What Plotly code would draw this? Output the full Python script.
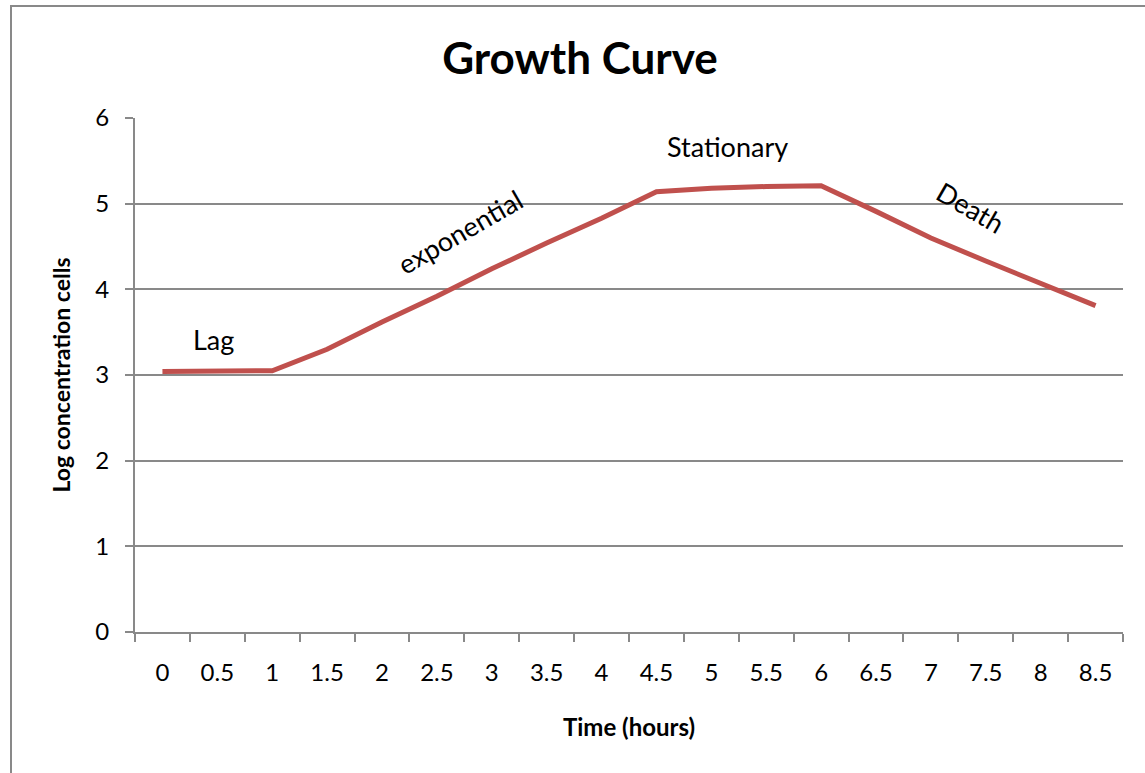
import plotly.graph_objects as go

time_labels = ["0", "0.5", "1", "1.5", "2", "2.5", "3", "3.5", "4", "4.5",
               "5", "5.5", "6", "6.5", "7", "7.5", "8", "8.5"]
log_conc = [3.04, 3.045, 3.05, 3.30, 3.62, 3.92, 4.24, 4.54, 4.83, 5.14,
            5.18, 5.20, 5.21, 4.91, 4.60, 4.33, 4.07, 3.81]

phase_labels = ["Lag", "exponential", "Stationary", "Death"]
phase_x = [0.93, 5.43, 10.30, 14.73]
phase_y = [3.42, 4.67, 5.67, 4.95]
phase_angle = [0, -30, 0, 30]

FONT = "Lato, 'Open Sans', sans-serif"
GRAY = "#898989"

fig = go.Figure()
fig.add_trace(go.Scatter(
    x=time_labels, y=log_conc, mode="lines",
    line=dict(color="#C0504D", width=5), showlegend=False, hoverinfo="skip"))

for t, x, y, a in zip(phase_labels, phase_x, phase_y, phase_angle):
    fig.add_annotation(x=x, y=y, xref="x", yref="y", text=t, showarrow=False,
                       textangle=a, font=dict(family=FONT, size=27, color="black"))

fig.add_shape(type="rect", xref="paper", yref="paper",
              x0=(11 - 135) / 988, x1=1.3, y0=-0.6, y1=(632 - 6) / 514,
              line=dict(color=GRAY, width=2), fillcolor="rgba(0,0,0,0)", layer="below")

fig.update_layout(
    width=1145, height=773,
    margin=dict(l=135, r=22, t=118, b=141, pad=0),
    paper_bgcolor="white", plot_bgcolor="white",
    font=dict(family=FONT, color="black"),
    title=dict(text="<b>Growth Curve</b>", x=580 / 1145,
               xanchor="center", y=1 - 59 / 773, yanchor="middle",
               font=dict(family=FONT, size=44, color="black")),
    xaxis=dict(
        type="category", range=[-0.5, 17.5],
        showline=True, linecolor=GRAY, linewidth=2,
        ticks="outside", tickson="boundaries", ticklen=8, tickcolor=GRAY, tickwidth=2,
        showgrid=False, tickfont=dict(family=FONT, size=24, color="black"),
        ticklabelstandoff=18,
        title=dict(text="<b>Time (hours)</b>", standoff=34,
                   font=dict(family=FONT, size=24, color="black")),
    ),
    yaxis=dict(
        range=[0, 6], tickvals=[0, 1, 2, 3, 4, 5, 6],
        showline=True, linecolor=GRAY, linewidth=2,
        ticks="outside", ticklen=8, tickcolor=GRAY, tickwidth=2,
        showgrid=True, gridcolor=GRAY, gridwidth=1.5, zeroline=False,
        tickfont=dict(family=FONT, size=24, color="black"),
        ticklabelstandoff=11,
        title=dict(text="<b>Log concentration cells</b>", standoff=18,
                   font=dict(family=FONT, size=23, color="black")),
    ),
)

fig.write_html("out.html",
               config={"displayModeBar": False},
               post_script="document.body.style.margin='0';document.body.style.overflow='hidden';")
